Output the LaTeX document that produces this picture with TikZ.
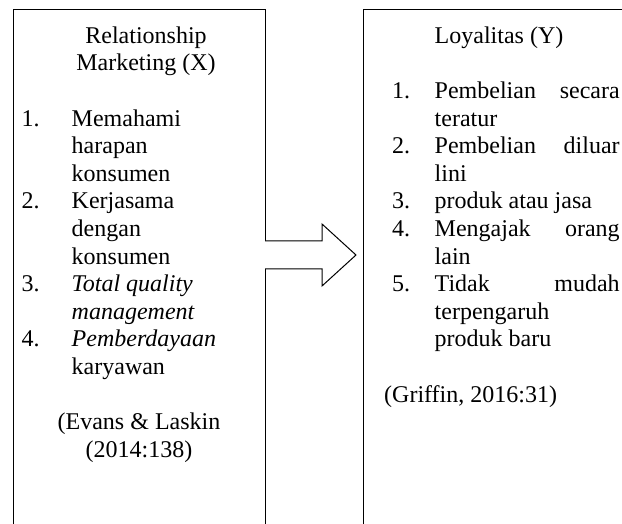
\documentclass[tikz,border=0pt]{standalone}
\usepackage{fontspec}
\setmainfont{Liberation Serif}
\tikzset{
  boxline/.style={draw,line width=1.3pt,inner sep=0pt,anchor=north west},
  txt/.style={anchor=base west,inner sep=0pt,font=\fontsize{24}{27.6}\selectfont},
  ctr/.style={txt,anchor=base},
}
\begin{document}
\begin{tikzpicture}[x=1pt,y=-1pt]
  \clip (0,0) rectangle (622,524);
  % the two boxes, open below the page
  \node[boxline,minimum width=252.5pt,minimum height=600pt] (rm) at (12.5,9) {};
  \node[boxline,minimum width=320pt,minimum height=600pt] (loy) at (363,9) {};
  % block arrow
  \coordinate (tail) at (265,255);
  \coordinate (tip) at (356,255);
  \draw[line width=1pt,fill=white] (tail) ++(0,-14) -- ++(57,0) -- ++(0,-17) -- (tip)
    -- ++(-34,31) -- ++(0,-17) -- ++(-57,0);
  % Relationship Marketing
  \node[ctr] (rmA) at (146,43.3) {Relationship};
  \node[ctr] (rmB) at (146,70.9) {Marketing (X)};
  \node[txt] (rmN1) at (21.5,126.1) {1.};
  \node[txt] (rm1a) at (71.5,126.1) {Memahami};
  \node[txt] (rm1b) at (71.5,153.7) {harapan};
  \node[txt] (rm1c) at (71.5,181.3) {konsumen};
  \node[txt] (rmN2) at (21.5,208.9) {2.};
  \node[txt] (rm2a) at (71.5,208.9) {Kerjasama};
  \node[txt] (rm2b) at (71.5,236.5) {dengan};
  \node[txt] (rm2c) at (71.5,264.1) {konsumen};
  \node[txt] (rmN3) at (21.5,291.7) {3.};
  \node[txt] (rm3a) at (71.5,291.7) {\textit{Total quality}};
  \node[txt] (rm3b) at (71.5,319.3) {\textit{management}};
  \node[txt] (rmN4) at (21.5,346.9) {4.};
  \node[txt] (rm4a) at (71.5,346.9) {\textit{Pemberdayaan}};
  \node[txt] (rm4b) at (71.5,374.5) {karyawan};
  \node[ctr] (rmS1) at (139,429.7) {(Evans \& Laskin};
  \node[ctr] (rmS2) at (139,457.3) {(2014:138)};
  % Loyalitas
  \node[txt] (loyA) at (434.5,43.3) {Loyalitas (Y)};
  \node[txt] (loyN1) at (392,98.5) {1.};
  \node[txt] (loy1a) at (434.5,98.5) {\makebox[185pt][s]{Pembelian secara}};
  \node[txt] (loy1b) at (434.5,126.1) {teratur};
  \node[txt] (loyN2) at (392,153.7) {2.};
  \node[txt] (loy2a) at (434.5,153.7) {\makebox[185pt][s]{Pembelian diluar}};
  \node[txt] (loy2b) at (434.5,181.3) {lini};
  \node[txt] (loyN3) at (392,208.9) {3.};
  \node[txt] (loy3a) at (434.5,208.9) {produk atau jasa};
  \node[txt] (loyN4) at (392,236.5) {4.};
  \node[txt] (loy4a) at (434.5,236.5) {\makebox[185pt][s]{Mengajak orang}};
  \node[txt] (loy4b) at (434.5,264.1) {lain};
  \node[txt] (loyN5) at (392,291.7) {5.};
  \node[txt] (loy5a) at (434.5,291.7) {\makebox[185pt][s]{Tidak mudah}};
  \node[txt] (loy5b) at (434.5,319.3) {terpengaruh};
  \node[txt] (loy5c) at (434.5,346.9) {produk baru};
  \node[txt] (loyS) at (384,402.1) {(Griffin, 2016:31)};
\end{tikzpicture}
\end{document}
